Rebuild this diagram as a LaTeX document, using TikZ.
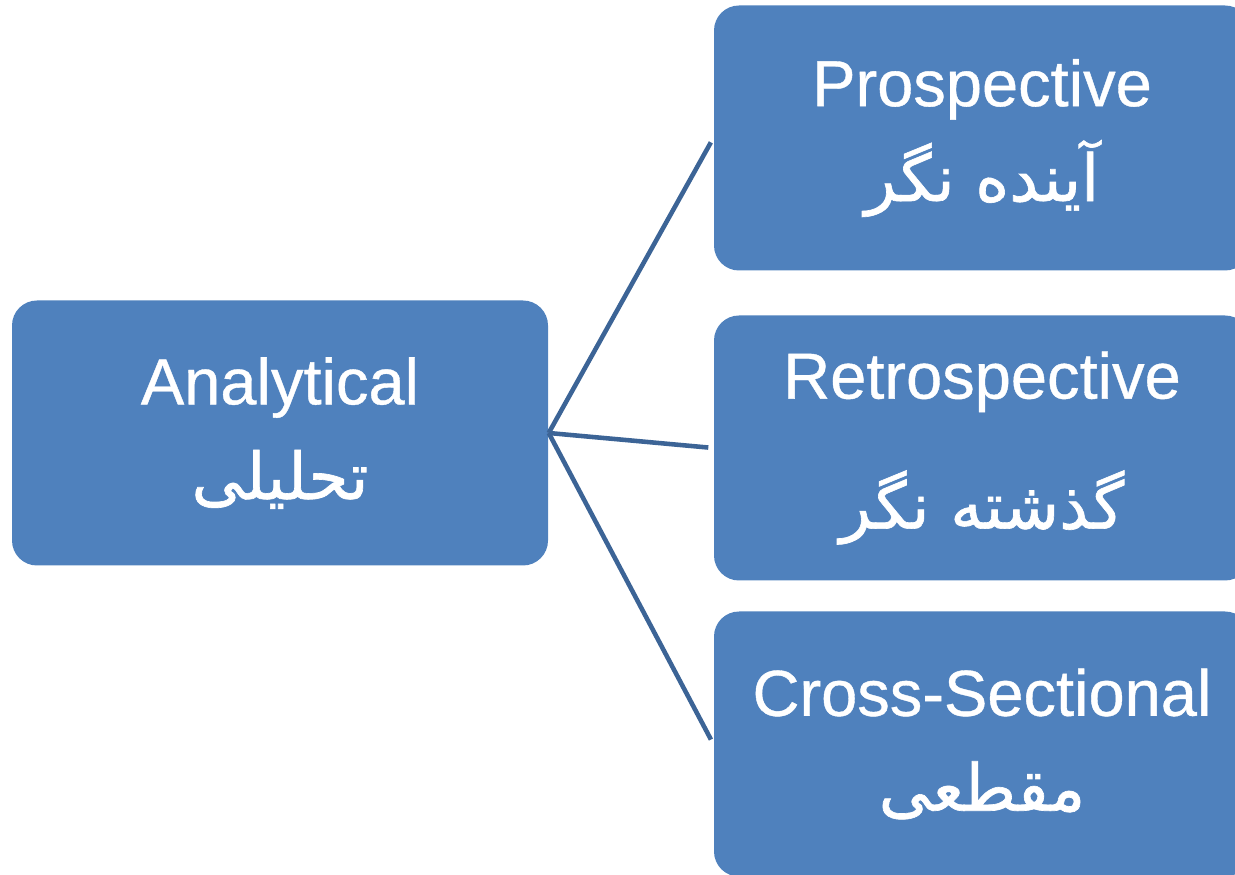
\documentclass[tikz,border=0pt]{standalone}
\usepackage{fontspec}
\setmainfont[FakeBold=0.6]{Liberation Sans}
\newfontfamily\arabicfont[Script=Arabic, Scale=1.0, FakeBold=1]{DejaVu Sans}
\TeXXeTstate=1
\definecolor{boxblue}{HTML}{4F81BD}
\definecolor{lineblue}{HTML}{3C6496}
\begin{document}
\begin{tikzpicture}[x=0.1mm, y=-0.1mm,
  box/.style={rectangle, rounded corners=2.5mm, fill=boxblue, text=white, align=center, inner sep=0pt, minimum height=26.5mm, font=\fontsize{18.5}{27}\selectfont},
  link/.style={draw=lineblue, line width=1.3pt, shorten >=0.5mm}]
\useasboundingbox (0,0) rectangle (1235,875);

\node[box, minimum width=53.6mm] at (280,433) (ana) {Analytical\\{\arabicfont\beginR تحلیلی\endR}};

\node[box, minimum width=53.6mm] at (982,138) (pro) {Prospective\\{\arabicfont\beginR آینده نگر\endR}};
\node[box, minimum width=53.6mm] at (982,448) (retro) {Retrospective\\[10pt]{\arabicfont\beginR گذشته نگر\endR}};
\node[box, minimum width=53.6mm] at (982,744) (cross) {Cross-Sectional\\{\arabicfont\beginR مقطعی\endR}};

\draw[link] (ana.east) -- (pro.west);
\draw[link] (ana.east) -- (retro.west);
\draw[link] (ana.east) -- (cross.west);
\end{tikzpicture}
\end{document}
